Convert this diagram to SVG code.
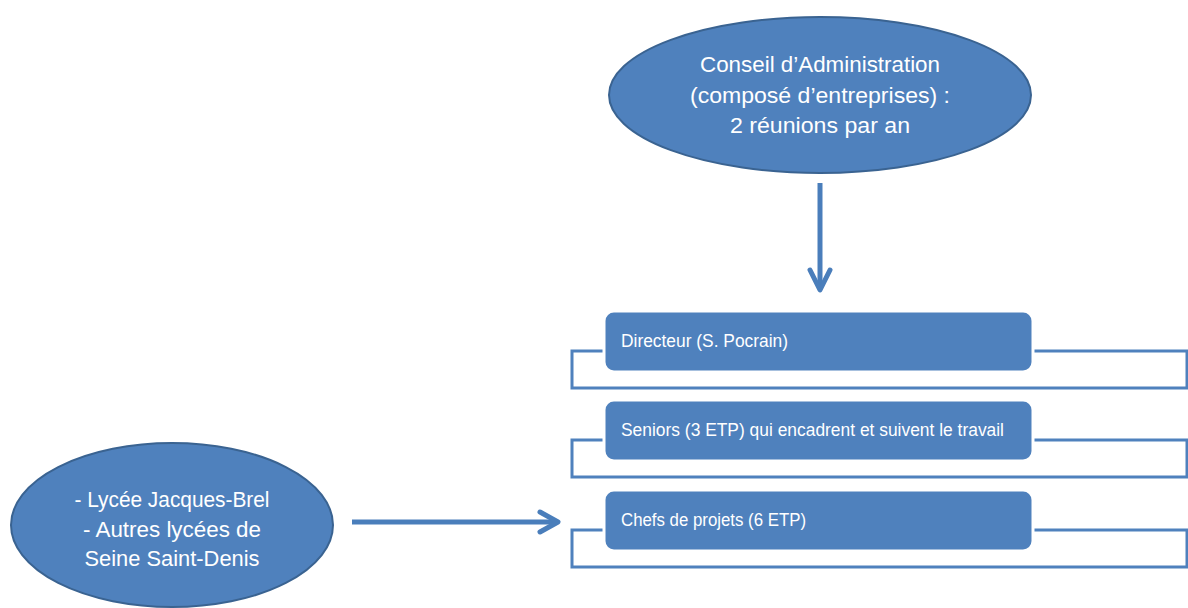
<svg xmlns="http://www.w3.org/2000/svg" width="1188" height="608" viewBox="0 0 1188 608">
  <style>
    .oval { fill: #4f81bd; stroke: #3a6391; stroke-width: 2; }
    .box { fill: #4f81bd; stroke: #ffffff; stroke-width: 3; }
    .bracket { fill: none; stroke: #4f81bd; stroke-width: 3; }
    .link { fill: none; stroke: #4a7ebb; stroke-width: 5; }
    .head { fill: none; stroke: #4a7ebb; stroke-width: 5; stroke-linecap: round; stroke-linejoin: round; }
    .lbl { fill: #ffffff; font-family: "Liberation Sans", Arial, sans-serif; }
    .big { font-size: 22.5px; text-anchor: middle; }
    .small { font-size: 17.5px; }
  </style>
  <rect width="1188" height="608" fill="#ffffff"/>

  <!-- bracket outlines sitting behind each level box -->
  <g id="brackets">
    <rect class="bracket" x="572" y="351" width="615" height="37"/>
    <rect class="bracket" x="572" y="440" width="615" height="37"/>
    <rect class="bracket" x="572" y="530" width="615" height="37"/>
  </g>

  <g id="conseil">
    <ellipse class="oval" cx="820" cy="95" rx="211" ry="78"/>
    <text class="lbl big" x="820" y="72" textLength="240" lengthAdjust="spacingAndGlyphs">Conseil d’Administration</text>
    <text class="lbl big" x="820" y="103" textLength="260" lengthAdjust="spacingAndGlyphs">(composé  d’entreprises) :</text>
    <text class="lbl big" x="820" y="133" textLength="180" lengthAdjust="spacingAndGlyphs">2 réunions par an</text>
  </g>

  <g id="lycees">
    <ellipse class="oval" cx="172" cy="525" rx="161" ry="82"/>
    <text class="lbl big" x="172" y="507" textLength="195" lengthAdjust="spacingAndGlyphs">- Lycée Jacques-Brel</text>
    <text class="lbl big" x="172" y="537" textLength="178" lengthAdjust="spacingAndGlyphs">- Autres lycées de</text>
    <text class="lbl big" x="172" y="566" textLength="175" lengthAdjust="spacingAndGlyphs">Seine Saint-Denis</text>
  </g>

  <g id="directeur">
    <rect class="box" x="604" y="311" width="429" height="61" rx="10"/>
    <text class="lbl small" x="621" y="347" textLength="167" lengthAdjust="spacingAndGlyphs">Directeur (S. Pocrain)</text>
  </g>

  <g id="seniors">
    <rect class="box" x="604" y="400" width="429" height="61" rx="10"/>
    <text class="lbl small" x="621" y="436" textLength="383" lengthAdjust="spacingAndGlyphs">Seniors (3 ETP) qui encadrent et suivent le travail</text>
  </g>

  <g id="chefs">
    <rect class="box" x="604" y="490" width="429" height="61" rx="10"/>
    <text class="lbl small" x="621" y="526" textLength="185" lengthAdjust="spacingAndGlyphs">Chefs de projets (6 ETP)</text>
  </g>

  <g id="connectors">
    <line class="link" x1="820" y1="183" x2="820" y2="289"/>
    <polyline class="head" points="810,270 820,290 830,270"/>
    <line class="link" x1="352" y1="522" x2="557" y2="522"/>
    <polyline class="head" points="540,512 558,522 540,532"/>
  </g>
</svg>
